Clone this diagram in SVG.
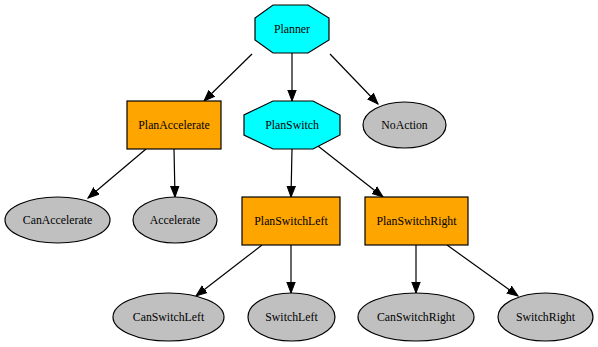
<svg xmlns="http://www.w3.org/2000/svg" width="598" height="347" viewBox="0 0 598 347">
  <style>
    text { font-family: "Liberation Serif", "Times New Roman", Times, serif; font-size: 11.8px; font-weight: normal; fill: #000; text-anchor: middle; }
    .sel { fill: #00ffff; stroke: #000; stroke-width: 1.2; }
    .seq { fill: #ffa500; stroke: #000; stroke-width: 1.2; }
    .leaf { fill: #c0c0c0; stroke: #000; stroke-width: 1.2; }
    .edge { stroke: #000; stroke-width: 1.2; fill: none; marker-end: url(#arrow); }
  </style>
  <defs>
    <marker id="arrow" markerUnits="userSpaceOnUse" markerWidth="13" markerHeight="11" refX="11" refY="5" orient="auto" viewBox="0 0 13 10">
      <path d="M0,0.8 L11,5 L0,9.2 Z" fill="#000" stroke="#000" stroke-width="1"/>
    </marker>
  </defs>
  <rect width="598" height="347" fill="#fff"/>

  <!-- parent-to-child links -->
  <g id="edges">
    <line class="edge" x1="252" y1="54" x2="204" y2="101"/>
    <line class="edge" x1="292" y1="53" x2="292" y2="101"/>
    <line class="edge" x1="330" y1="54" x2="378" y2="104"/>
    <line class="edge" x1="146" y1="149" x2="88" y2="198"/>
    <line class="edge" x1="174" y1="149" x2="175" y2="197"/>
    <line class="edge" x1="292" y1="149" x2="291" y2="197"/>
    <line class="edge" x1="318" y1="146" x2="383" y2="197"/>
    <line class="edge" x1="262" y1="245" x2="196" y2="296"/>
    <line class="edge" x1="291" y1="245" x2="291" y2="293"/>
    <line class="edge" x1="416" y1="245" x2="416" y2="293"/>
    <line class="edge" x1="447" y1="245" x2="518" y2="296"/>
  </g>

  <g id="Planner">
    <polygon class="sel" points="273,5 308,5 329,18 329,40 308,53 273,53 255,40 255,18"/>
    <text x="292" y="33">Planner</text>
  </g>
  <g id="PlanAccelerate">
    <rect class="seq" x="127" y="101" width="94" height="48"/>
    <text x="174" y="129">PlanAccelerate</text>
  </g>
  <g id="PlanSwitch">
    <polygon class="sel" points="273,101 313,101 340,115 340,135 313,149 273,149 244,135 244,115"/>
    <text x="292" y="129">PlanSwitch</text>
  </g>
  <g id="NoAction">
    <ellipse class="leaf" cx="404.5" cy="125" rx="41.5" ry="23"/>
    <text x="404.5" y="129">NoAction</text>
  </g>
  <g id="CanAccelerate">
    <ellipse class="leaf" cx="57.5" cy="220" rx="52.5" ry="23"/>
    <text x="57.5" y="224">CanAccelerate</text>
  </g>
  <g id="Accelerate">
    <ellipse class="leaf" cx="175" cy="220" rx="42" ry="23"/>
    <text x="175" y="224">Accelerate</text>
  </g>
  <g id="PlanSwitchLeft">
    <rect class="seq" x="242" y="197" width="98" height="48"/>
    <text x="291" y="225">PlanSwitchLeft</text>
  </g>
  <g id="PlanSwitchRight">
    <rect class="seq" x="365" y="197" width="103" height="48"/>
    <text x="416.5" y="225">PlanSwitchRight</text>
  </g>
  <g id="CanSwitchLeft">
    <ellipse class="leaf" cx="168.5" cy="317" rx="55.5" ry="24"/>
    <text x="168.5" y="321">CanSwitchLeft</text>
  </g>
  <g id="SwitchLeft">
    <ellipse class="leaf" cx="291.5" cy="317" rx="43.5" ry="24"/>
    <text x="291.5" y="321">SwitchLeft</text>
  </g>
  <g id="CanSwitchRight">
    <ellipse class="leaf" cx="416" cy="317" rx="58" ry="24"/>
    <text x="416" y="321">CanSwitchRight</text>
  </g>
  <g id="SwitchRight">
    <ellipse class="leaf" cx="545.5" cy="317" rx="47.5" ry="24"/>
    <text x="545.5" y="321">SwitchRight</text>
  </g>
</svg>
